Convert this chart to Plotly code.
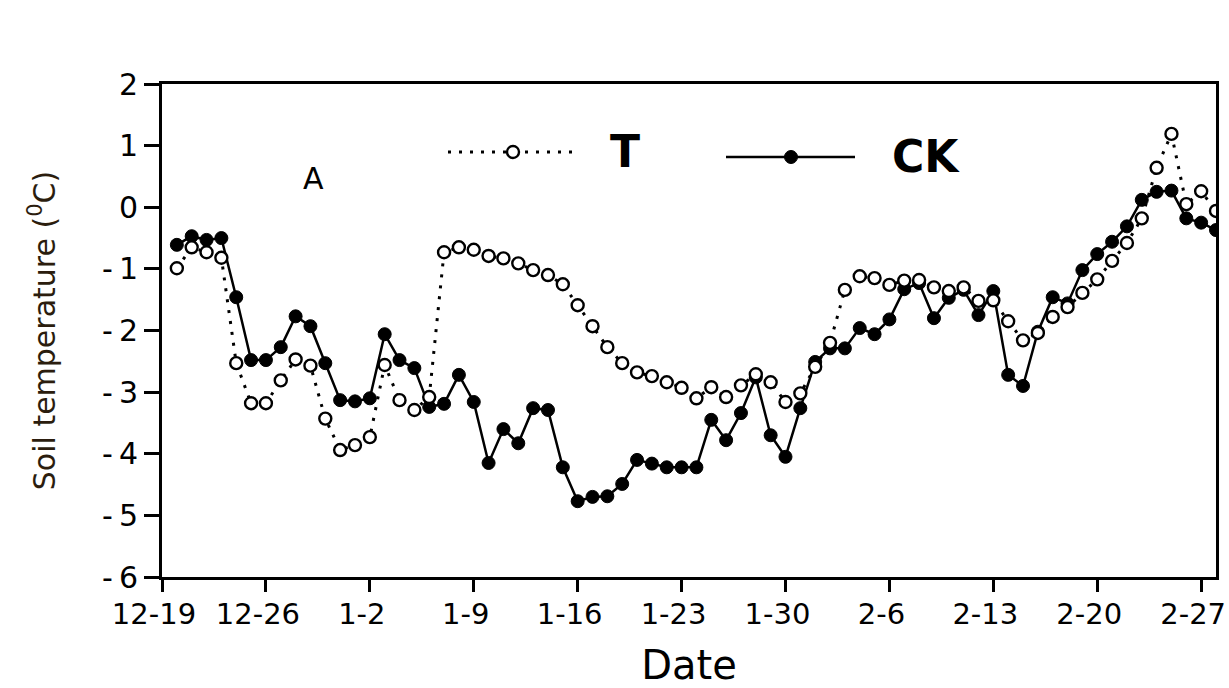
import pandas as pd
import plotly.graph_objects as go

# Daily soil temperature, 20 Dec – 28 Feb
dates = pd.date_range("2018-12-20", "2019-02-28", freq="D")

t_values = [
    -0.99, -0.65, -0.73, -0.82, -2.53, -3.18, -3.18, -2.81, -2.47, -2.57,
    -3.43, -3.94, -3.86, -3.73, -2.56, -3.13, -3.29, -3.08, -0.73, -0.65,
    -0.69, -0.79, -0.83, -0.91, -1.02, -1.10, -1.25, -1.59, -1.93, -2.27,
    -2.53, -2.68, -2.74, -2.84, -2.93, -3.10, -2.92, -3.08, -2.89, -2.71,
    -2.84, -3.16, -3.02, -2.59, -2.20, -1.34, -1.12, -1.15, -1.26, -1.19,
    -1.18, -1.30, -1.36, -1.30, -1.52, -1.51, -1.85, -2.16, -2.04, -1.78,
    -1.62, -1.39, -1.17, -0.87, -0.58, -0.18, 0.64, 1.19, 0.05, 0.26,
    -0.06,
]

ck_values = [
    -0.61, -0.47, -0.53, -0.50, -1.46, -2.48, -2.48, -2.27, -1.77, -1.93,
    -2.53, -3.13, -3.15, -3.10, -2.06, -2.48, -2.61, -3.24, -3.19, -2.72,
    -3.16, -4.15, -3.60, -3.83, -3.26, -3.29, -4.22, -4.77, -4.70, -4.69,
    -4.49, -4.10, -4.16, -4.22, -4.22, -4.22, -3.45, -3.78, -3.34, -2.76,
    -3.70, -4.05, -3.26, -2.51, -2.29, -2.29, -1.96, -2.06, -1.82, -1.33,
    -1.23, -1.80, -1.47, -1.34, -1.75, -1.36, -2.72, -2.90, -2.02, -1.46,
    -1.56, -1.02, -0.76, -0.56, -0.31, 0.12, 0.25, 0.27, -0.18, -0.25,
    -0.37,
]

tick_dates = pd.date_range("2018-12-19", periods=11, freq="7D")
tick_labels = ["12-19", "12-26", "1-2", "1-9", "1-16", "1-23",
               "1-30", "2-6", "2-13", "2-20", "2-27"]

y_ticks = [2, 1, 0, -1, -2, -3, -4, -5, -6]
y_tick_labels = ["2", "1", "0", "-\u20091", "-\u20092", "-\u20093",
                 "-\u20094", "-\u20095", "-\u20096"]

FONT = "DejaVu Sans"

fig = go.Figure()

fig.add_trace(go.Scatter(
    x=dates, y=ck_values, name="CK", mode="lines+markers",
    line=dict(color="black", width=2.5),
    marker=dict(symbol="circle", size=13, color="black",
                line=dict(color="black", width=1)),
    showlegend=False,
))

fig.add_trace(go.Scatter(
    x=dates, y=t_values, name="T", mode="lines+markers",
    line=dict(color="black", width=3, dash="3px,8px"),
    marker=dict(symbol="circle", size=12, color="white",
                line=dict(color="black", width=2.4)),
    showlegend=False,
))

# Hand-drawn legend: sample lines with markers plus bold labels
def px_x(p):
    return (p - 162) / 1054

def px_y(p):
    return (577 - p) / 493

shapes = [
    dict(type="line", xref="paper", yref="paper",
         x0=px_x(448), x1=px_x(575), y0=px_y(152), y1=px_y(152),
         line=dict(color="black", width=3, dash="3px,8px")),
    dict(type="circle", xref="paper", yref="paper",
         xsizemode="pixel", ysizemode="pixel",
         xanchor=px_x(513), yanchor=px_y(152),
         x0=-6, x1=6, y0=-6, y1=6,
         fillcolor="white", line=dict(color="black", width=2.4)),
    dict(type="line", xref="paper", yref="paper",
         x0=px_x(726), x1=px_x(855), y0=px_y(157), y1=px_y(157),
         line=dict(color="black", width=2.5)),
    dict(type="circle", xref="paper", yref="paper",
         xsizemode="pixel", ysizemode="pixel",
         xanchor=px_x(791), yanchor=px_y(157),
         x0=-6.5, x1=6.5, y0=-6.5, y1=6.5,
         fillcolor="black", line=dict(color="black", width=1)),
]

annotations = [
    dict(text="<b>T</b>", xref="paper", yref="paper",
         x=px_x(625), y=px_y(151), xanchor="center", yanchor="middle",
         showarrow=False, font=dict(family=FONT, size=44, color="black")),
    dict(text="<b>CK</b>", xref="paper", yref="paper",
         x=px_x(926), y=px_y(157), xanchor="center", yanchor="middle",
         showarrow=False, font=dict(family=FONT, size=44, color="black")),
    dict(text="A", xref="paper", yref="paper",
         x=px_x(313), y=px_y(178), xanchor="center", yanchor="middle",
         showarrow=False, font=dict(family=FONT, size=30, color="black")),
]

fig.update_layout(
    width=1229, height=688,
    margin=dict(l=162, r=13, t=84, b=111),
    paper_bgcolor="white", plot_bgcolor="white",
    font=dict(family=FONT, color="black"),
    shapes=shapes, annotations=annotations,
)

fig.update_xaxes(
    range=["2018-12-19", "2019-02-28"],
    tickvals=tick_dates, ticktext=tick_labels,
    ticks="outside", ticklen=12, tickwidth=2.5, tickcolor="black",
    tickfont=dict(family=FONT, size=29, color="black"),
    ticklabelshift=-8, ticklabelstandoff=-3,
    ticklabeloverflow="allow", automargin=False,
    showline=True, linewidth=3, linecolor="black", mirror=True,
    showgrid=False, zeroline=False,
    title=dict(text="Date", font=dict(family=FONT, size=40, color="black"),
               standoff=24),
)

fig.update_yaxes(
    range=[-6, 2], tickvals=y_ticks, ticktext=y_tick_labels,
    ticks="outside", ticklen=15, tickwidth=2.5, tickcolor="black",
    tickfont=dict(family=FONT, size=30, color="black"),
    automargin=False,
    showline=True, linewidth=3, linecolor="black", mirror=True,
    showgrid=False, zeroline=False,
    title=dict(text="Soil temperature (<sup>0</sup>C)",
               font=dict(family=FONT, size=30, color="#2b1d0e"),
               standoff=38),
)

fig.write_html("out.html")
